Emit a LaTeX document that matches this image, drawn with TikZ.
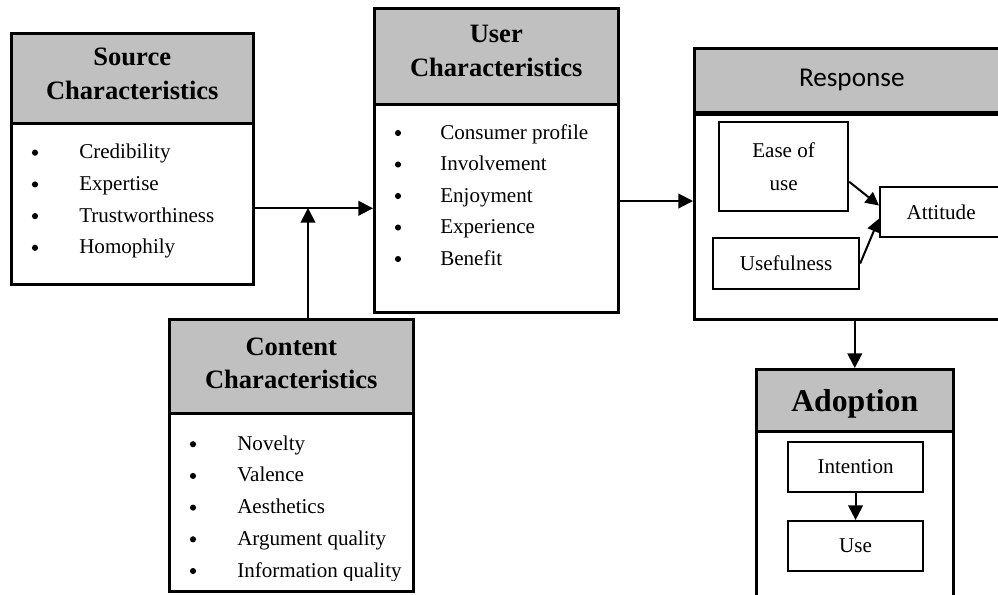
\documentclass[tikz,border=0pt]{standalone}
\usepackage{fontspec}
\setmainfont{Liberation Serif}
\newfontfamily\respfont{Carlito}
\usetikzlibrary{arrows.meta}
\definecolor{hdrgray}{HTML}{C0C0C0}
\begin{document}
\begin{tikzpicture}[x=0.75pt,y=-0.75pt,
  frame/.style={draw, line width=1.9pt, rectangle, inner sep=0pt, anchor=north west},
  hdr/.style={frame, fill=hdrgray},
  htext/.style={inner sep=0pt, font=\fontsize{19.9}{25}\selectfont\bfseries, align=center},
  panel/.style={frame, fill=white},
  smallbox/.style={draw, line width=1.6pt, rectangle, inner sep=0pt, anchor=north west, fill=white,
    font=\fontsize{15.8}{24.7}\selectfont, align=center},
  itm/.style={anchor=base west, inner sep=0pt, font=\fontsize{15.8}{19}\selectfont},
  bul/.style={circle, fill=black, inner sep=0pt, minimum size=4.6pt},
  conn/.style={line width=1.5pt, -{Triangle[length=11pt,width=11pt]}},
  sconn/.style={line width=1.5pt, -{Triangle[length=10pt,width=10pt]}}
]
\useasboundingbox (0,0) rectangle (998,594);
\clip (0,0) rectangle (998,594);
\fill[white] (0,0) rectangle (998,594);

% Source
\node[panel, minimum width=181.5pt, minimum height=120.75pt] (srcbody) at (10,122) {};
\node[hdr, minimum width=181.5pt, minimum height=67.5pt] (srchdr) at (10,32) {};
\node[htext] (srct) at ([yshift=3.2pt]srchdr.center) {Source\\Characteristics};
\foreach \t [count=\i] in {Credibility,Expertise,Trustworthiness,Homophily} {
  \node[bul] (sb\i) at (35,{121+31.7*\i}) {};
  \node[itm] (st\i) at (79,{127+31.7*\i}) {\t};
}

% User
\node[panel, minimum width=183pt, minimum height=156pt] (ubody) at (373,103) {};
\node[hdr, minimum width=183pt, minimum height=72pt] (uhdr) at (373,7) {};
\node[htext] (ut) at ([yshift=4pt]uhdr.center) {User\\Characteristics};
\foreach \t [count=\i] in {Consumer profile,Involvement,Enjoyment,Experience,Benefit} {
  \node[bul] (ub\i) at (398,{101.5+31.5*\i}) {};
  \node[itm] (ut\i) at (440,{107.5+31.5*\i}) {\t};
}

% Content
\node[panel, minimum width=183pt, minimum height=133.5pt] (cbody) at (168,412) {};
\node[hdr, minimum width=183pt, minimum height=70.5pt] (chdr) at (168,318) {};
\node[htext] (ctt) at ([yshift=2.2pt]chdr.center) {Content\\Characteristics};
\begin{scope}
\clip (168,412) rectangle (412,580);
\foreach \t [count=\i] in {Novelty,Valence,Aesthetics,Argument quality,Information quality} {
  \node[bul] (cb\i) at (193,{412.5+31.7*\i}) {};
  \node[itm] (ct\i) at (237,{418.5+31.7*\i}) {\t};
}
\end{scope}

% Response
\node[panel, minimum width=236.25pt, minimum height=155.25pt] (rbody) at (693,111) {};
\node[frame, fill=hdrgray, minimum width=236.25pt, minimum height=48pt,
  font=\respfont\fontsize{20.4}{24}\selectfont] (rhdr) at (693,47) {Response};
\draw[line width=3pt] (rhdr.south west) -- (rhdr.south east);
\node[smallbox, minimum width=96.75pt, minimum height=66.75pt] (ease) at (718,121) {Ease of\\use};
\node[smallbox, minimum width=91.5pt, minimum height=37.5pt] (att) at (879,186) {Attitude};
\node[smallbox, minimum width=109.5pt, minimum height=38.25pt] (usef) at (712,237) {Usefulness};
\draw[sconn] (ease.-13) -- (att.174);
\draw[sconn] (usef.east) -- (att.186);

% Adoption
\node[panel, minimum width=147.75pt, minimum height=150pt] (abody) at (755,430) {};
\node[frame, fill=hdrgray, minimum width=147.75pt, minimum height=46.5pt] (ahdr) at (755,368) {};
\node[inner sep=0pt, font=\fontsize{23.8}{28}\selectfont\bfseries] (at) at ([yshift=-2.5pt]ahdr.center) {Adoption};
\node[smallbox, minimum width=101.25pt, minimum height=37.5pt] (intn) at (787,441) {Intention};
\node[smallbox, minimum width=101.25pt, minimum height=37.5pt] (usebox) at (787,520) {Use};
\draw[conn] (intn.south) -- (usebox.north);

% connectors
\draw[conn] (srcbody.east |- ubody.west) -- (ubody.west);
\coordinate (jn) at (308,208);
\draw[conn] (chdr.north -| jn) -- (jn);
\coordinate (rj) at (655,201);
\draw[conn] (ubody.east |- rj) -- (rbody.west |- rj);
\draw[conn] (rbody.south -| ahdr.north) -- (ahdr.north);
\end{tikzpicture}
\end{document}
